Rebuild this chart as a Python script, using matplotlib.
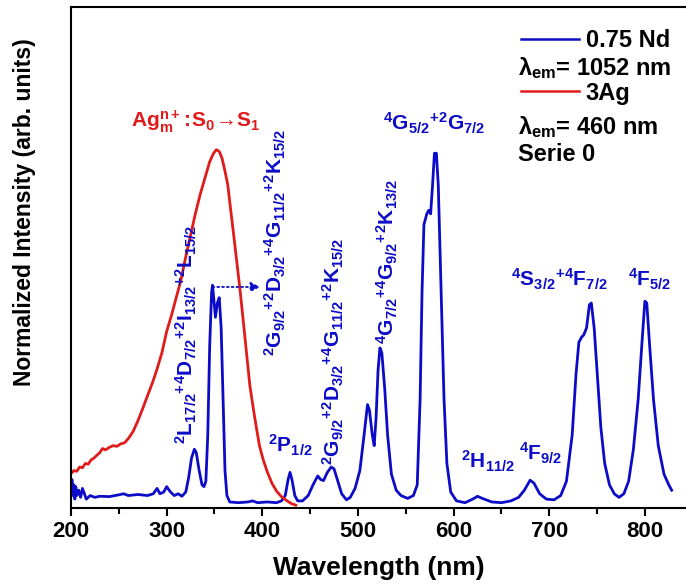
import matplotlib
matplotlib.use("Agg")
import matplotlib.pyplot as plt
from matplotlib.lines import Line2D

plt.rcParams['font.family'] = ['Liberation Sans', 'DejaVu Sans']
plt.rcParams['font.weight'] = 'bold'
plt.rcParams['axes.labelweight'] = 'bold'
plt.rcParams['mathtext.default'] = 'regular'

# Nd excitation spectrum (lambda_em = 1052 nm)
nd_wl = [200, 201, 202, 203, 204, 205, 206, 208, 210, 212, 214, 216, 220, 225, 230, 240,
         250, 255, 260, 270, 280, 286, 290, 293, 297, 300, 304, 308, 312, 316, 320, 323,
         326, 329, 331, 334, 337, 339, 341, 343, 345, 347, 348, 350, 351, 353, 355, 357,
         359, 361, 363, 366, 375, 385, 390, 395, 405, 415, 420, 424, 427, 429, 431, 434,
         437, 442, 448, 453, 458, 461, 464, 468, 472, 475, 479, 483, 488, 492, 497, 502,
         506, 510, 512, 515, 517, 519, 521, 523, 525, 528, 531, 535, 540, 545, 552, 558,
         562, 565, 567, 569, 572, 574, 576, 578, 580, 582, 584, 587, 590, 593, 597, 603,
         612, 620, 625, 630, 640, 650, 660, 668, 674, 680, 684, 690, 697, 705, 712, 718,
         724, 728, 731, 734, 736, 739, 742, 744, 747, 750, 754, 758, 763, 768, 773, 778,
         783, 788, 793, 797, 800, 802, 805, 809, 814, 820, 825, 828]
nd_int = [0.04, 0.075, 0.03, 0.06, 0.02, 0.055, 0.03, 0.045, 0.025, 0.05, 0.035, 0.02, 0.03, 0.025, 0.028, 0.027,
          0.032, 0.035, 0.03, 0.033, 0.03, 0.035, 0.05, 0.035, 0.04, 0.055, 0.04, 0.03, 0.035, 0.028, 0.04, 0.08,
          0.135, 0.16, 0.15, 0.1, 0.06, 0.055, 0.07, 0.2, 0.45, 0.6, 0.62, 0.56, 0.53, 0.57, 0.585, 0.5,
          0.3, 0.1, 0.03, 0.012, 0.01, 0.012, 0.015, 0.01, 0.012, 0.01, 0.015, 0.03, 0.075, 0.095, 0.075, 0.03,
          0.015, 0.015, 0.03, 0.06, 0.085, 0.075, 0.072, 0.095, 0.11, 0.105, 0.07, 0.035, 0.018, 0.025, 0.05, 0.1,
          0.19, 0.285, 0.27, 0.2, 0.17, 0.25, 0.38, 0.444, 0.43, 0.33, 0.2, 0.09, 0.045, 0.03, 0.022, 0.03,
          0.06, 0.3, 0.6, 0.79, 0.82, 0.83, 0.82, 0.9, 0.99, 0.99, 0.9, 0.6, 0.3, 0.12, 0.04, 0.015,
          0.01, 0.02, 0.028, 0.022, 0.012, 0.01, 0.015, 0.025, 0.045, 0.073, 0.065, 0.035, 0.02, 0.018, 0.03, 0.07,
          0.2, 0.37, 0.46, 0.475, 0.48, 0.5, 0.565, 0.57, 0.5, 0.38, 0.22, 0.12, 0.06, 0.035, 0.025, 0.035,
          0.07, 0.16, 0.3, 0.46, 0.575, 0.57, 0.45, 0.3, 0.17, 0.09, 0.06, 0.045]

# Ag excitation spectrum (lambda_em = 460 nm)
ag_wl = [200, 203, 206, 209, 212, 215, 218, 221, 224, 227, 230, 233, 236, 240, 244, 248,
         252, 256, 260, 265, 270, 275, 280, 285, 290, 295, 300, 305, 310, 315, 320, 325,
         330, 335, 340, 345, 349, 352, 355, 358, 361, 364, 367, 370, 374, 377, 382, 387,
         392, 397, 401, 405, 410, 415, 420, 425, 430, 435]
ag_int = [0.092, 0.1, 0.098, 0.11, 0.108, 0.12, 0.118, 0.13, 0.135, 0.143, 0.15, 0.162, 0.158, 0.165, 0.17, 0.168,
          0.175, 0.178, 0.19, 0.21, 0.24, 0.274, 0.31, 0.345, 0.385, 0.43, 0.49, 0.535, 0.585, 0.635, 0.7, 0.76,
          0.82, 0.874, 0.92, 0.966, 0.99, 1.0, 0.995, 0.975, 0.94, 0.9, 0.83, 0.763, 0.67, 0.6, 0.47, 0.338,
          0.25, 0.17, 0.13, 0.098, 0.065, 0.042, 0.027, 0.017, 0.008, 0.003]

blue = '#0c0cc8'
red = '#e01b1b'

fig = plt.figure(figsize=(6.86, 5.88), dpi=100)
ax = fig.add_axes([0.1035, 0.136, 0.8965, 0.852])

ax.plot(nd_wl, nd_int, color=blue, lw=2.0)
ax.plot(ag_wl, ag_int, color=red, lw=2.0)

ax.set_xlim(200, 843)
ax.set_ylim(-0.005, 1.40)
ax.set_xticks([200, 300, 400, 500, 600, 700, 800])
ax.set_xticks(range(250, 850, 100), minor=True)
ax.set_yticks([])
ax.tick_params(axis='x', which='major', direction='out', length=6, width=1.5, labelsize=16)
ax.tick_params(axis='x', which='minor', direction='out', length=4, width=1.5)
for s in ['left', 'bottom', 'top']:
    ax.spines[s].set_linewidth(1.5)
ax.spines['right'].set_visible(False)

ax.set_xlabel('Wavelength (nm)', fontsize=19, labelpad=10)
ax.set_ylabel('Normalized Intensity (arb. units)', fontsize=16.5)
ax.yaxis.set_label_coords(-0.057, 0.59)

# transition labels
fs = 15
ax.text(321, 0.483, r'$^{2}L_{17/2}{}^{+}{}^{4}D_{7/2}{}^{+}{}^{2}I_{13/2}{}^{+}{}^{2}L_{15/2}$',
        rotation=90, ha='center', va='center', color=blue, fontsize=fs)
ax.text(414, 0.74, r'$^{2}G_{9/2}{}^{+}{}^{2}D_{3/2}{}^{+}{}^{4}G_{11/2}{}^{+}{}^{2}K_{15/2}$',
        rotation=90, ha='center', va='center', color=blue, fontsize=fs)
ax.text(474, 0.433, r'$^{2}G_{9/2}{}^{+}{}^{2}D_{3/2}{}^{+}{}^{4}G_{11/2}{}^{+}{}^{2}K_{15/2}$',
        rotation=90, ha='center', va='center', color=blue, fontsize=fs)
ax.text(531, 0.687, r'$^{4}G_{7/2}{}^{+}{}^{4}G_{9/2}{}^{+}{}^{2}K_{13/2}$',
        rotation=90, ha='center', va='center', color=blue, fontsize=fs)
ax.text(580, 1.073, r'$^{4}G_{5/2}{}^{+}{}^{2}G_{7/2}$', ha='center', va='center', color=blue, fontsize=fs)
ax.text(711, 0.637, r'$^{4}S_{3/2}{}^{+}{}^{4}F_{7/2}$', ha='center', va='center', color=blue, fontsize=fs)
ax.text(805, 0.637, r'$^{4}F_{5/2}$', ha='center', va='center', color=blue, fontsize=fs)
ax.text(636, 0.126, r'$^{2}H_{11/2}$', ha='center', va='center', color=blue, fontsize=fs)
ax.text(691, 0.148, r'$^{4}F_{9/2}$', ha='center', va='center', color=blue, fontsize=fs)
ax.text(429, 0.17, r'$^{2}P_{1/2}$', ha='center', va='center', color=blue, fontsize=fs)
ax.text(330, 1.078, r'$Ag^{n+}_{m}\!:\!S_{0}\!\rightarrow\!S_{1}$', ha='center', va='center',
        color=red, fontsize=fs)

ax.annotate('', xy=(398, 0.615), xytext=(348, 0.615),
            arrowprops=dict(arrowstyle='-|>', color=blue, lw=1.3, linestyle=':',
                            mutation_scale=14, shrinkA=0, shrinkB=0))

# legend block
lfs = 17
handles = [Line2D([], [], color=blue, lw=1.8), Line2D([], [], color=red, lw=1.8)]
ax.legend(handles, ['0.75 Nd', '3Ag'], loc='upper left', bbox_to_anchor=(0.731, 0.956),
          frameon=False, fontsize=lfs, handlelength=2.46, handletextpad=0.3,
          labelspacing=1.25, borderpad=0, borderaxespad=0)
ax.text(0.727, 0.864, r'$\lambda_{em}$= 1052 nm', transform=ax.transAxes, fontsize=lfs, va='baseline')
ax.text(0.727, 0.747, r'$\lambda_{em}$= 460 nm', transform=ax.transAxes, fontsize=lfs, va='baseline')
ax.text(0.727, 0.693, 'Serie 0', transform=ax.transAxes, fontsize=lfs, va='baseline')

fig.savefig('out.png', dpi=100)
